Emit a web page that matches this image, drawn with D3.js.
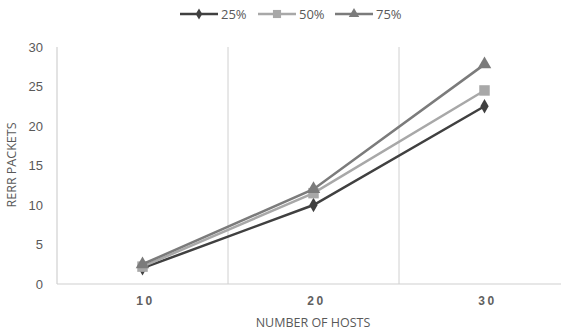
<!DOCTYPE html>
<html>
<head>
<meta charset="utf-8">
<script src="https://cdn.jsdelivr.net/npm/d3@7"></script>
<style>
  html, body { margin: 0; padding: 0; background: #fff; }
  svg { display: block; font-family: "Open Sans", "Liberation Sans", sans-serif; }
</style>
</head>
<body>
<svg id="chart" width="561" height="333"></svg>
<script>
// Host counts on the x axis and RERR packet counts per load level
const categories = ["10", "20", "30"];
const seriesNames = ["25%", "50%", "75%"];
const values25 = [2, 10, 22.5];
const values50 = [2.2, 11.5, 24.5];
const values75 = [2.5, 12, 27.8];
const yTicks = [0, 5, 10, 15, 20, 25, 30];

const series = [
  { name: seriesNames[0], values: values25, color: "#404040", symbol: d3.symbolDiamond, size: 60 },
  { name: seriesNames[1], values: values50, color: "#a8a8a8", symbol: d3.symbolSquare, size: 110 },
  { name: seriesNames[2], values: values75, color: "#7b7b7b", symbol: d3.symbolTriangle, size: 80 }
];

const svg = d3.select("#chart");
const plotLeft = 57, plotTop = 47, plotBottom = 284, bandW = 171;

const x = d3.scaleBand().domain(categories).range([plotLeft, plotLeft + bandW * categories.length]).paddingInner(0).paddingOuter(0);
const y = d3.scaleLinear().domain([0, 30]).range([plotBottom, plotTop]);

// Category separators
svg.append("g").selectAll("line")
  .data(categories.slice(1))
  .join("line")
  .attr("x1", d => x(d)).attr("x2", d => x(d))
  .attr("y1", plotTop).attr("y2", plotBottom)
  .attr("stroke", "#d0d0d0").attr("stroke-width", 1);

// Axis lines
svg.append("line").attr("x1", plotLeft).attr("x2", 561).attr("y1", plotBottom).attr("y2", plotBottom)
  .attr("stroke", "#d0d0d0").attr("stroke-width", 1.2);
svg.append("line").attr("x1", plotLeft).attr("x2", plotLeft).attr("y1", plotTop).attr("y2", plotBottom)
  .attr("stroke", "#d0d0d0").attr("stroke-width", 1.2);

// Y tick labels
const yAxis = d3.axisLeft(y).tickValues(yTicks).tickSize(0).tickPadding(14);
const gy = svg.append("g").attr("transform", `translate(${plotLeft},0)`).call(yAxis);
gy.select(".domain").remove();
gy.selectAll("text").attr("fill", "#595959").attr("font-size", 13);

// X tick labels (letter-spaced, nudged so the spaced digits stay centred)
const xAxis = d3.axisBottom(x).tickSize(0).tickPadding(12);
const gx = svg.append("g").attr("transform", `translate(0,${plotBottom})`).call(xAxis);
gx.select(".domain").remove();
gx.selectAll("text").attr("fill", "#606060").attr("font-size", 12)
  .attr("letter-spacing", "2.5px").attr("font-weight", 600).attr("dx", 3);

// Axis titles
svg.append("text").attr("x", 313).attr("y", 327).attr("text-anchor", "middle")
  .attr("fill", "#595959").attr("font-size", 12.5).text("NUMBER OF HOSTS");
svg.append("text").attr("transform", "translate(16,165) rotate(-90)").attr("text-anchor", "middle")
  .attr("fill", "#595959").attr("font-size", 12.5).text("RERR PACKETS");

// Lines and markers
const line = d3.line().x((d, i) => x(categories[i]) + x.bandwidth() / 2).y(d => y(d));
series.forEach(s => {
  svg.append("path").datum(s.values).attr("d", line)
    .attr("fill", "none").attr("stroke", s.color).attr("stroke-width", 2.5);
  svg.append("g").selectAll("path").data(s.values).join("path")
    .attr("d", d3.symbol().type(s.symbol).size(s.size))
    .attr("transform", (d, i) => `translate(${x(categories[i]) + x.bandwidth() / 2},${y(d)})`)
    .attr("fill", s.color);
});

// Legend
const legendX = [180, 258, 335];
const lg = svg.append("g");
series.forEach((s, i) => {
  const g = lg.append("g").attr("transform", `translate(${legendX[i]},14)`);
  g.append("line").attr("x1", 0).attr("x2", 38).attr("stroke", s.color).attr("stroke-width", 2.5);
  g.append("path").attr("d", d3.symbol().type(s.symbol).size(s.size * 0.6))
    .attr("transform", "translate(19,0)").attr("fill", s.color);
  g.append("text").attr("x", 41).attr("y", 5).attr("fill", "#595959").attr("font-size", 13).text(s.name);
});
</script>
</body>
</html>
